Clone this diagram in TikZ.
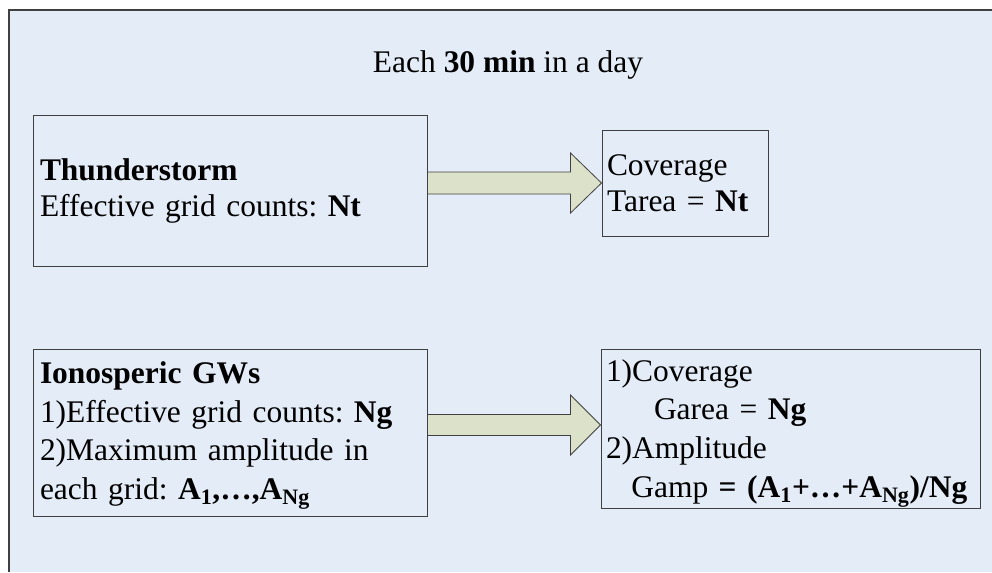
\documentclass[tikz,border=0pt]{standalone}
\usepackage{fontspec}
\setmainfont{Liberation Serif}
\usetikzlibrary{calc}
\definecolor{bgblue}{HTML}{E4ECF7}
\definecolor{arrowfill}{HTML}{DCE2C9}
\definecolor{edgegray}{HTML}{404040}
\frenchspacing
\begin{document}
\begin{tikzpicture}[x=0.75pt,y=-0.75pt,
  boxnode/.style={draw=edgegray, line width=0.75pt, rectangle, inner ysep=0pt, align=left, anchor=center},
  smallsp/.style={font=\fontsize{23.6}{27}\selectfont\frenchspacing},
  widesp/.style={font=\fontsize{23.6}{29}\selectfont\frenchspacing},
  bigarrow/.style={draw=edgegray, line width=0.6pt, fill=arrowfill, line join=miter},
  frameline/.style={draw=edgegray, line width=1pt}]
\useasboundingbox (0,0) rectangle (992,572);
\fill[bgblue] (9,10) rectangle (992,572);
\draw[frameline] (9,572) -- (9,10) -- (992,10);

\node[anchor=base, font=\fontsize{23.6}{27}\selectfont\frenchspacing] (title) at (508,72) {Each \textbf{30 min} in a day};

\node[boxnode, smallsp, inner xsep=5.25pt, text width=285pt, minimum height=113.25pt] (T) at (230,190.5)
  {\textbf{Thunderstorm}\\\mbox{Effective grid counts: \textbf{Nt}}};

\node[boxnode, smallsp, inner xsep=3.75pt, text width=117pt, minimum height=79.5pt] (C1) at (685,183)
  {Coverage\\\mbox{Tarea = \textbf{Nt}}};

\node[boxnode, widesp, inner xsep=5.25pt, text width=285pt, minimum height=125.25pt] (I) at (230,432.5)
  {\rule{0pt}{20.8pt}\textbf{Ionosperic GWs}\\\mbox{1)Effective grid counts: \textbf{Ng}}\\\mbox{2)Maximum amplitude in}\\\mbox{each grid: \textbf{A\textsubscript{1},…,A\textsubscript{Ng}}}};

\node[boxnode, widesp, inner xsep=3.75pt, text width=276.75pt, minimum height=119.25pt] (G) at (790.5,428.5)
  {\rule{0pt}{23.2pt}1)Coverage\\\mbox{\hspace*{36pt}Garea = \textbf{Ng}}\\2)Amplitude\\\mbox{\hspace*{19pt}Gamp \textbf{= (A\textsubscript{1}+…+A\textsubscript{Ng})/Ng}}};

% arrow 1
\coordinate (a1tip) at (C1.west);
\coordinate (a1u) at ($(a1tip)+(0,-11)$);
\coordinate (a1d) at ($(a1tip)+(0,11)$);
\draw[bigarrow] (T.east |- a1u) -- ($(a1tip)+(-31,-11)$) -- ($(a1tip)+(-31,-30)$) -- (a1tip)
  -- ($(a1tip)+(-31,30)$) -- ($(a1tip)+(-31,11)$) -- (T.east |- a1d) -- cycle;

% arrow 2
\coordinate (a2tip) at ($(G.west)+(0,-3.5)$);
\coordinate (a2u) at ($(a2tip)+(0,-10.5)$);
\coordinate (a2d) at ($(a2tip)+(0,10.5)$);
\draw[bigarrow] (I.east |- a2u) -- ($(a2tip)+(-30,-10.5)$) -- ($(a2tip)+(-30,-30)$) -- (a2tip)
  -- ($(a2tip)+(-30,30)$) -- ($(a2tip)+(-30,10.5)$) -- (I.east |- a2d) -- cycle;
\end{tikzpicture}
\end{document}
